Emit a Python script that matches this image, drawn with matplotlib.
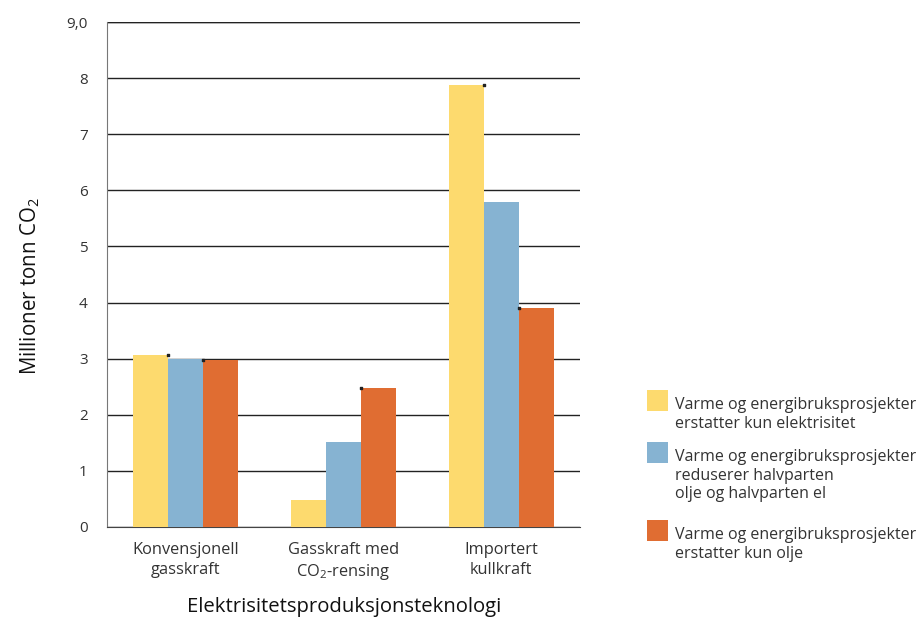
import matplotlib
matplotlib.use("Agg")
import matplotlib.pyplot as plt
from matplotlib.patches import Rectangle
import numpy as np

plt.rcParams["font.family"] = ["Open Sans", "DejaVu Sans"]
plt.rcParams["mathtext.default"] = "regular"

categories = ["Konvensjonell\ngasskraft", "Gasskraft med\nCO$_2$-rensing", "Importert\nkullkraft"]
series_names = [
    "Varme og energibruksprosjekter\nerstatter kun elektrisitet",
    "Varme og energibruksprosjekter\nreduserer halvparten\nolje og halvparten el",
    "Varme og energibruksprosjekter\nerstatter kun olje",
]
kun_el = [3.06, 0.48, 7.88]
halv = [3.00, 1.51, 5.79]
kun_olje = [2.98, 2.48, 3.90]
yticks = [0, 1, 2, 3, 4, 5, 6, 7, 8, 9]
ytick_labels = ["0", "1", "2", "3", "4", "5", "6", "7", "8", "9,0"]

colors = ["#FDDA6E", "#86B3D2", "#E06D32"]
text_col = "#333333"

fig = plt.figure(figsize=(9.19, 6.2), dpi=100)
ax = fig.add_axes([0.1164, 0.15, 0.5147, 0.8145])

x = np.arange(len(categories))
w = 0.222
for i, (vals, c) in enumerate(zip([kun_el, halv, kun_olje], colors)):
    ax.bar(x + (i - 1) * w, vals, width=w, color=c, zorder=3, linewidth=0)

# small end marks on the outer series
ax.scatter(x[[0, 2]] - 0.5 * w, np.array(kun_el)[[0, 2]], marker="s", s=3, color="#222222", zorder=4)
ax.scatter(x + 0.5 * w, kun_olje, marker="s", s=3, color="#222222", zorder=4)

ax.set_xlim(-0.5, 2.5)
ax.set_ylim(0, 9)
ax.set_yticks(yticks)
ax.set_yticklabels(ytick_labels, color=text_col, fontsize=11)
ax.set_xticks(x)
ax.set_xticklabels(categories, color=text_col, fontsize=11.8, linespacing=1.3)
ax.tick_params(axis="y", length=0, pad=14)
ax.tick_params(axis="x", length=0, pad=11)
ax.yaxis.grid(True, color="#222222", linewidth=1.0, zorder=1)
ax.set_axisbelow(True)
for s in ["top", "right"]:
    ax.spines[s].set_visible(False)
ax.spines["left"].set_color("#777777")
ax.spines["bottom"].set_color("#444444")
ax.axhline(9, color="#222222", linewidth=1.0, zorder=1)

ax.set_ylabel("Millioner tonn CO$_2$", fontsize=14.8, color="#111111")
ax.yaxis.set_label_coords(-0.138, 0.477)

W, H = 919, 620
fig.text(344 / W, 1 - 607 / H, "Elektrisitetsproduksjonsteknologi", fontsize=14.6,
         color="#111111", ha="center", va="center")

# legend drawn in figure pixels
tops = [390, 442, 520]
for name, c, t in zip(series_names, colors, tops):
    fig.add_artist(Rectangle((647 / W, 1 - (t + 21) / H), 21 / W, 21 / H,
                             transform=fig.transFigure, color=c, linewidth=0))
    fig.text(675 / W, 1 - (t + 7) / H, name, fontsize=11.5, color=text_col,
             va="top", ha="left", linespacing=1.22)

fig.savefig("out.png", dpi=100)
